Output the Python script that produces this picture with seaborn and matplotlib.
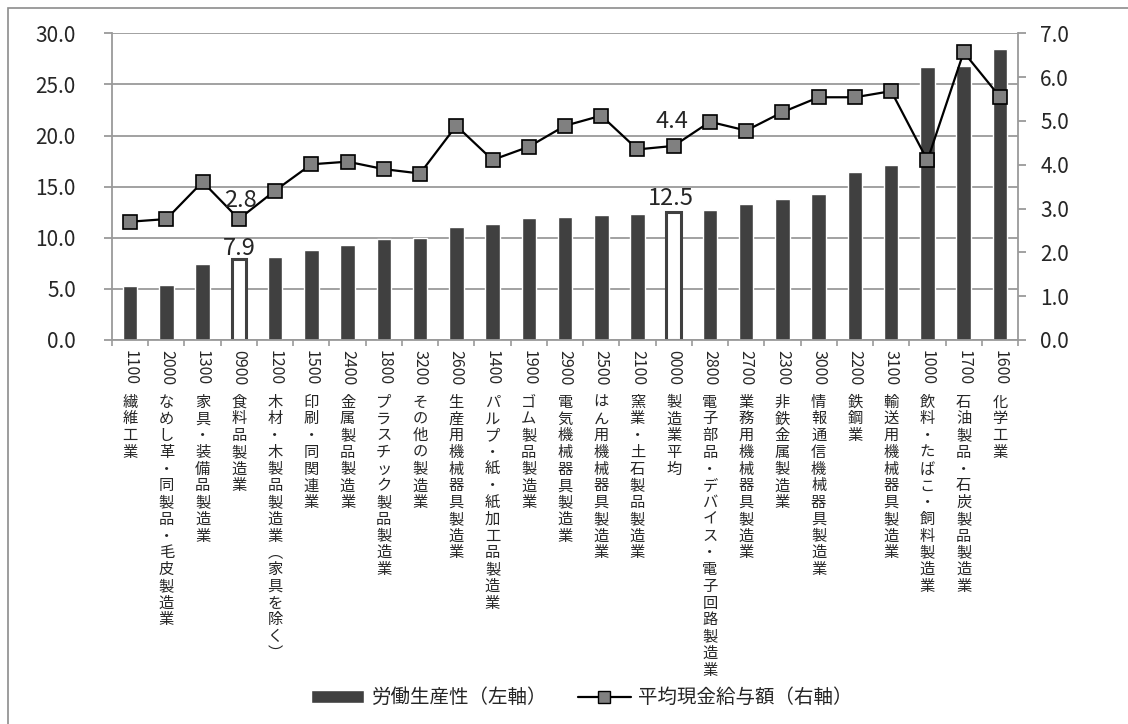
import matplotlib.pyplot as plt
import numpy as np
import seaborn as sns
from matplotlib.patches import Patch, Rectangle
from matplotlib.lines import Line2D

# Data
codes = ['1100', '2000', '1300', '0900', '1200', '1500', '2400', '1800', '3200',
         '2600', '1400', '1900', '2900', '2500', '2100', '0000', '2800', '2700',
         '2300', '3000', '2200', '3100', '1000', '1700', '1600']
names = ['繊維工業', 'なめし革・同製品・毛皮製造業', '家具・装備品製造業', '食料品製造業',
         '木材・木製品製造業（家具を除く）', '印刷・同関連業', '金属製品製造業',
         'プラスチック製品製造業', 'その他の製造業', '生産用機械器具製造業',
         'パルプ・紙・紙加工品製造業', 'ゴム製品製造業', '電気機械器具製造業',
         'はん用機械器具製造業', '窯業・土石製品製造業', '製造業平均',
         '電子部品・デバイス・電子回路製造業', '業務用機械器具製造業', '非鉄金属製造業',
         '情報通信機械器具製造業', '鉄鋼業', '輸送用機械器具製造業',
         '飲料・たばこ・飼料製造業', '石油製品・石炭製品製造業', '化学工業']
productivity = [5.3, 5.4, 7.4, 7.9, 8.1, 8.8, 9.3, 9.9, 10.0, 11.1, 11.3, 11.9, 12.0,
                12.2, 12.3, 12.5, 12.7, 13.3, 13.8, 14.3, 16.4, 17.1, 26.7, 26.8, 28.5]
wages = [2.70, 2.76, 3.61, 2.76, 3.41, 4.01, 4.07, 3.90, 3.80, 4.89, 4.11, 4.41, 4.89,
         5.12, 4.35, 4.43, 4.98, 4.78, 5.20, 5.54, 5.54, 5.68, 4.10, 6.57, 5.55]
highlight = ['0900', '0000']
bar_label = '労働生産性（左軸）'
line_label = '平均現金給与額（右軸）'

sns.set_style('white')
plt.rcParams['font.family'] = ['Noto Sans CJK JP', 'DejaVu Sans']

BAR = '#404040'
GRID = '#9a9a9a'

fig = plt.figure(figsize=(11.28, 7.24), dpi=100)
ax = fig.add_axes([0.0993, 0.5304, 0.8032, 0.4236])

sns.barplot(x=codes, y=productivity, order=codes, color=BAR, saturation=1,
            width=0.4, ax=ax, zorder=2)
for code, bar in zip(codes, ax.patches):
    if code in highlight:
        bar.set_facecolor('white')
        bar.set_edgecolor(BAR)
        bar.set_linewidth(2.2)

ax.set_ylim(0, 30)
ax.set_yticks(np.arange(0, 31, 5))
ax.set_yticklabels([f'{v:.1f}' for v in np.arange(0, 31, 5)], fontsize=15)
ax.yaxis.grid(True, color=GRID, lw=1.3, zorder=0)
ax.set_axisbelow(True)
ax.tick_params(axis='y', direction='out', length=6, width=1.3, color=GRID,
               pad=20, left=True)

n = len(codes)
ax.set_xlim(-0.5, n - 0.5)
ax.set_xticks(np.arange(n))
ax.set_xticklabels(codes, rotation=-90, fontsize=11.5)
ax.set_xticks(np.arange(-0.5, n, 1), minor=True)
ax.tick_params(axis='x', which='major', length=0, pad=7)
ax.tick_params(axis='x', which='minor', direction='out', length=4, width=1.2,
               color=GRID, bottom=True)
ax.set_xlabel('')
ax.set_ylabel('')

vertical = str.maketrans({'（': '︵', '）': '︶'})
for i, name in enumerate(names):
    ax.text(i, -0.175, '\n'.join(name.translate(vertical)),
            transform=ax.get_xaxis_transform(), ha='center', va='top',
            fontsize=11, linespacing=0.98)

for sp in ['top', 'right']:
    ax.spines[sp].set_visible(False)
for sp in ['left', 'bottom']:
    ax.spines[sp].set_color(GRID)
    ax.spines[sp].set_linewidth(1.3)

# right axis: average cash wages
ax2 = ax.twinx()
sns.lineplot(x=np.arange(n), y=wages, ax=ax2, color='black', lw=1.6,
             marker='s', markersize=10, markerfacecolor='#808080',
             markeredgecolor='black', markeredgewidth=1.2, zorder=3)
ax2.set_ylim(0, 7)
ax2.set_yticks(np.arange(0, 8))
ax2.set_yticklabels([f'{v:.1f}' for v in np.arange(0, 8)], fontsize=15)
ax2.tick_params(axis='y', direction='out', length=6, width=1.3, color=GRID,
                pad=10, right=True)
ax2.set_xlim(-0.5, n - 0.5)
ax2.set_ylabel('')
for sp in ['top', 'left', 'bottom']:
    ax2.spines[sp].set_visible(False)
ax2.spines['right'].set_color(GRID)
ax2.spines['right'].set_linewidth(1.3)

# data labels on highlighted items
i0, i1 = codes.index('0900'), codes.index('0000')
ax.annotate(f'{productivity[i0]:.1f}', (i0, productivity[i0]), xytext=(0, 3),
            textcoords='offset points', ha='center', va='baseline', fontsize=17)
ax.annotate(f'{productivity[i1]:.1f}', (i1, productivity[i1]), xytext=(-2, 5),
            textcoords='offset points', ha='center', va='baseline', fontsize=17)
ax2.annotate(f'{wages[i0]:.1f}', (i0, wages[i0]), xytext=(1, 9),
             textcoords='offset points', ha='center', va='baseline', fontsize=17)
ax2.annotate(f'{wages[i1]:.1f}', (i1, wages[i1]), xytext=(-1, 13),
             textcoords='offset points', ha='center', va='baseline', fontsize=17)

handles = [Patch(facecolor=BAR, label=bar_label),
           Line2D([], [], color='black', lw=1.6, marker='s', markersize=8,
                  markerfacecolor='#808080', markeredgecolor='black', label=line_label)]
fig.legend(handles=handles, loc='center', bbox_to_anchor=(0.516, 0.036), ncol=2,
           frameon=False, fontsize=14, handlelength=2.7, handletextpad=0.4,
           columnspacing=1.6)

# outer chart border
fig.add_artist(Rectangle((8 / 1128, -0.5), 1.5, 1 - 8 / 724 + 0.5,
                         transform=fig.transFigure, fill=False,
                         edgecolor='#8c8c8c', lw=1.2))

fig.savefig('out.png', dpi=100)
